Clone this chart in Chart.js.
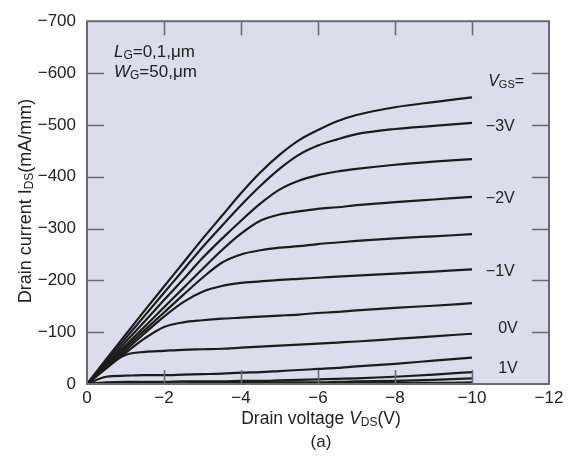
<!DOCTYPE html>
<html>
<head>
<meta charset="utf-8">
<script src="https://cdn.jsdelivr.net/npm/chart.js@4.4.1/dist/chart.umd.min.js"></script>
<style>
html,body{margin:0;padding:0;background:#fff;}
canvas{display:block;}
</style>
</head>
<body>
<canvas id="c" width="572" height="458"></canvas>
<script>
// ---- data ----
const vds = [0, -0.5, -1, -1.5, -2, -2.5, -3, -3.5, -4, -4.5, -5, -5.5, -6, -6.5, -7, -8, -9, -10];
const vgsValues = ['-3.5V', '-3V', '-2.5V', '-2V', '-1.5V', '-1V', '-0.5V', '0V', '0.5V', '1V', '1.5V', '2V'];
const idsM35 = [0, -48, -95, -142, -188, -234, -280, -324, -368, -408, -442, -470, -490, -507, -519, -534, -544, -553];
const idsM30 = [0, -44, -88, -132, -176, -220, -264, -305, -345, -382, -415, -442, -460, -472, -482, -492, -498, -504];
const idsM25 = [0, -40, -81, -121, -162, -202, -243, -280, -315, -348, -375, -392, -403, -410, -415, -423, -429, -434];
const idsM20 = [0, -37, -74, -111, -148, -185, -222, -258, -290, -315, -327, -333, -338, -341, -345, -351, -356, -361];
const idsM15 = [0, -35, -70, -104, -138, -172, -205, -234, -250, -258, -263, -266, -270, -273, -276, -281, -285, -289];
const idsM10 = [0, -33, -65, -98, -130, -158, -178, -189, -195, -198, -201, -203, -205, -207, -209, -213, -217, -221];
const idsM05 = [0, -30, -60, -88, -110, -119, -123, -126, -128, -130, -132, -134, -137, -139, -142, -147, -151, -156];
const ids00  = [0, -33, -56, -62, -64, -66, -67, -68, -70, -72, -74, -76, -78, -80, -82, -87, -92, -97];
const idsP05 = [0, -14, -16, -17, -17, -18, -19, -20, -22, -23, -25, -27, -29, -31, -34, -39, -45, -51];
const idsP10 = [0, -3, -4, -4, -4, -5, -5, -5, -6, -6, -7, -8, -9, -10, -11, -14, -18, -23];
const idsP15 = [0, -1, -1, -1, -1, -1, -2, -2, -2, -2, -3, -3, -3, -4, -5, -6, -8, -11];
const idsP20 = [0, -1, -1, -1, -1, -1, -1, -1, -1, -1, -1, -1, -1, -1, -2, -2, -2, -3];
const allIds = [idsM35, idsM30, idsM25, idsM20, idsM15, idsM10, idsM05, ids00, idsP05, idsP10, idsP15, idsP20];

const xTickValues = [0, -2, -4, -6, -8, -10, -12];
const xTickLabels = ['0', '\u22122', '\u22124', '\u22126', '\u22128', '\u221210', '\u221212'];
const yTickValues = [0, -100, -200, -300, -400, -500, -600, -700];
const yTickLabels = ['0', '\u2212100', '\u2212200', '\u2212300', '\u2212400', '\u2212500', '\u2212600', '\u2212700'];

// curve labels: [text, x (V), y (mA/mm)]
const curveLabels = [
  ['\u22123V', -10.36, -500],
  ['\u22122V', -10.36, -360],
  ['\u22121V', -10.36, -220],
  ['0V', -10.68, -110],
  ['1V', -10.68, -32]
];

const FONT = '"Liberation Sans", Arial, sans-serif';
const TXT = '#222';

function drawRich(ctx, segs, x, y, size, align) {
  // segs: [text, style] style: n normal, i italic, s subscript
  const fontFor = st => (st === 'i' ? 'italic ' : '') + (st === 's' ? Math.round(size * 0.68) : size) + 'px ' + FONT;
  let total = 0;
  const w = segs.map(([t, st]) => { ctx.font = fontFor(st); const m = ctx.measureText(t).width; total += m; return m; });
  let cx = align === 'center' ? x - total / 2 : x;
  ctx.textBaseline = 'alphabetic';
  ctx.textAlign = 'left';
  segs.forEach(([t, st], i) => {
    ctx.font = fontFor(st);
    ctx.fillText(t, cx, st === 's' ? y + size * 0.12 : y);
    cx += w[i];
  });
}

const framePlugin = {
  id: 'frame',
  beforeDatasetsDraw(chart) {
    const {ctx, chartArea: a} = chart;
    ctx.save();
    ctx.fillStyle = '#dcdcec';
    ctx.fillRect(a.left, a.top, a.right - a.left, a.bottom - a.top);
    ctx.restore();
  },
  afterDatasetsDraw(chart) {
    const {ctx, chartArea: a, scales} = chart;
    const xs = scales.x, ys = scales.y;
    ctx.save();
    ctx.strokeStyle = '#6a6a72';
    ctx.lineWidth = 2;
    ctx.strokeRect(a.left, a.top, a.right - a.left, a.bottom - a.top);
    ctx.lineWidth = 1.6;
    ctx.beginPath();
    xTickValues.forEach(v => {
      if (v === 0 || v === -12) return;
      const px = Math.round(xs.getPixelForValue(v)) + 0.5;
      ctx.moveTo(px, a.bottom); ctx.lineTo(px, a.bottom - 14);
      ctx.moveTo(px, a.top); ctx.lineTo(px, a.top + 14);
    });
    yTickValues.forEach(v => {
      if (v === 0 || v === -700) return;
      const py = Math.round(ys.getPixelForValue(v)) + 0.5;
      ctx.moveTo(a.left, py); ctx.lineTo(a.left + 17, py);
      ctx.moveTo(a.right, py); ctx.lineTo(a.right - 17, py);
    });
    ctx.stroke();

    ctx.fillStyle = TXT;
    // annotations
    drawRich(ctx, [['L', 'i'], ['G', 's'], ['=0,1,\u03bcm', 'n']], xs.getPixelForValue(-0.7), ys.getPixelForValue(-631), 17, 'left');
    drawRich(ctx, [['W', 'i'], ['G', 's'], ['=50,\u03bcm', 'n']], xs.getPixelForValue(-0.7), ys.getPixelForValue(-593), 17, 'left');
    drawRich(ctx, [['V', 'i'], ['GS', 's'], ['=', 'n']], xs.getPixelForValue(-10.42), ys.getPixelForValue(-575), 16, 'left');
    curveLabels.forEach(([t, vx, vy]) => {
      drawRich(ctx, [[t, 'n']], xs.getPixelForValue(vx), ys.getPixelForValue(vy) + 6, 16, 'left');
    });

    // axis titles
    const cxMid = (a.left + a.right) / 2 + 3;
    drawRich(ctx, [['Drain voltage ', 'n'], ['V', 'i'], ['DS', 's'], ['(V)', 'n']], cxMid, a.bottom + 40, 17.5, 'center');
    drawRich(ctx, [['(a)', 'n']], cxMid, a.bottom + 63, 17, 'center');
    ctx.save();
    ctx.translate(31, 201);
    ctx.rotate(-Math.PI / 2);
    drawRich(ctx, [['Drain current I', 'n'], ['DS', 's'], ['(mA/mm)', 'n']], 0, 0, 18, 'center');
    ctx.restore();
    ctx.restore();
  }
};

const datasets = allIds.map((arr, i) => ({
  label: vgsValues[i],
  data: vds.map((v, j) => ({x: v, y: arr[j]})),
  borderColor: '#1c1c1c',
  borderWidth: 2.2,
  pointRadius: 0,
  fill: false,
  cubicInterpolationMode: 'monotone'
}));

new Chart(document.getElementById('c'), {
  type: 'line',
  data: {datasets},
  plugins: [framePlugin],
  options: {
    responsive: false,
    animation: false,
    devicePixelRatio: 1,
    layout: {padding: {top: 17, right: 23, left: 0, bottom: 0}},
    plugins: {legend: {display: false}, tooltip: {enabled: false}},
    scales: {
      x: {
        type: 'linear', min: -12, max: 0, reverse: true,
        grid: {display: false, drawTicks: false}, border: {display: false},
        ticks: {
          stepSize: 2, autoSkip: false, maxRotation: 0, padding: 4,
          color: TXT, font: {family: FONT, size: 17},
          callback: v => { const k = xTickValues.indexOf(v); return k < 0 ? '' : xTickLabels[k]; }
        },
        afterFit: s => { s.height = 74; }
      },
      y: {
        type: 'linear', min: -700, max: 0, reverse: true,
        grid: {display: false, drawTicks: false}, border: {display: false},
        ticks: {
          stepSize: 100, autoSkip: false, padding: 11,
          color: TXT, font: {family: FONT, size: 17},
          callback: v => { const k = yTickValues.indexOf(v); return k < 0 ? '' : yTickLabels[k]; }
        },
        afterFit: s => { s.width = 87; }
      }
    }
  }
});
</script>
</body>
</html>
